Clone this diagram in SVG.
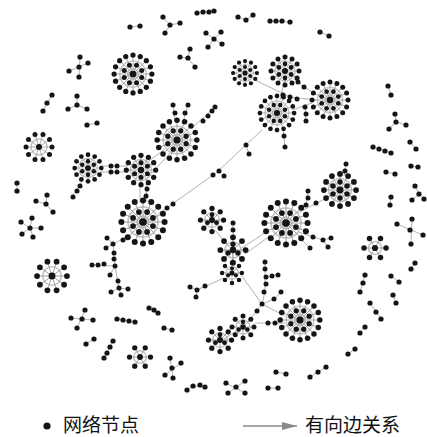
<svg xmlns="http://www.w3.org/2000/svg" width="427" height="437" viewBox="0 0 427 437">
<style>
.d{fill:#151515}
.sp{stroke:#9a9a9a;stroke-width:0.8;fill:none}
.rg{stroke:#c4c4c4;stroke-width:1.4;fill:none}
.e{stroke:#b2b2b2;stroke-width:1;fill:none}
.lt{font-family:"Noto Sans CJK SC","Noto Sans",sans-serif;font-size:19px;fill:#111}
</style>
<defs>
<marker id="ah" markerWidth="15" markerHeight="8" refX="15" refY="4" orient="auto" markerUnits="userSpaceOnUse"><polygon points="0,0 15,4 0,8" fill="#8a8a8a"/></marker>
<g id="hubL">
<circle class="rg" r="12.5"/><circle class="rg" r="5"/>
<path class="sp" d="M0 0L18 0M0 0L16.6 6.9M0 0L12.7 12.7M0 0L6.9 16.6M0 0L0 18M0 0L-6.9 16.6M0 0L-12.7 12.7M0 0L-16.6 6.9M0 0L-18 0M0 0L-16.6 -6.9M0 0L-12.7 -12.7M0 0L-6.9 -16.6M0 0L0 -18M0 0L6.9 -16.6M0 0L12.7 -12.7M0 0L16.6 -6.9"/>
<circle class="d" r="3.2"/>
<circle class="d" cx="8.3" cy="3.4" r="2.4"/><circle class="d" cx="3.4" cy="8.3" r="2.4"/><circle class="d" cx="-3.4" cy="8.3" r="2.4"/><circle class="d" cx="-8.3" cy="3.4" r="2.4"/><circle class="d" cx="-8.3" cy="-3.4" r="2.4"/><circle class="d" cx="-3.4" cy="-8.3" r="2.4"/><circle class="d" cx="3.4" cy="-8.3" r="2.4"/><circle class="d" cx="8.3" cy="-3.4" r="2.4"/>
<circle class="d" cx="18" cy="0" r="2.5"/><circle class="d" cx="16.6" cy="6.9" r="2.5"/><circle class="d" cx="12.7" cy="12.7" r="2.5"/><circle class="d" cx="6.9" cy="16.6" r="2.5"/><circle class="d" cx="0" cy="18" r="2.5"/><circle class="d" cx="-6.9" cy="16.6" r="2.5"/><circle class="d" cx="-12.7" cy="12.7" r="2.5"/><circle class="d" cx="-16.6" cy="6.9" r="2.5"/><circle class="d" cx="-18" cy="0" r="2.5"/><circle class="d" cx="-16.6" cy="-6.9" r="2.5"/><circle class="d" cx="-12.7" cy="-12.7" r="2.5"/><circle class="d" cx="-6.9" cy="-16.6" r="2.5"/><circle class="d" cx="0" cy="-18" r="2.5"/><circle class="d" cx="6.9" cy="-16.6" r="2.5"/><circle class="d" cx="12.7" cy="-12.7" r="2.5"/><circle class="d" cx="16.6" cy="-6.9" r="2.5"/>
</g>
<g id="hubM">
<circle class="rg" r="10"/>
<path class="sp" d="M0 0L14 0M0 0L12.1 7M0 0L7 12.1M0 0L0 14M0 0L-7 12.1M0 0L-12.1 7M0 0L-14 0M0 0L-12.1 -7M0 0L-7 -12.1M0 0L0 -14M0 0L7 -12.1M0 0L12.1 -7"/>
<circle class="d" r="3"/>
<circle class="d" cx="6.1" cy="3.5" r="2.4"/><circle class="d" cx="0" cy="7" r="2.4"/><circle class="d" cx="-6.1" cy="3.5" r="2.4"/><circle class="d" cx="-6.1" cy="-3.5" r="2.4"/><circle class="d" cx="0" cy="-7" r="2.4"/><circle class="d" cx="6.1" cy="-3.5" r="2.4"/>
<circle class="d" cx="14" cy="0" r="2.5"/><circle class="d" cx="12.1" cy="7" r="2.5"/><circle class="d" cx="7" cy="12.1" r="2.5"/><circle class="d" cx="0" cy="14" r="2.5"/><circle class="d" cx="-7" cy="12.1" r="2.5"/><circle class="d" cx="-12.1" cy="7" r="2.5"/><circle class="d" cx="-14" cy="0" r="2.5"/><circle class="d" cx="-12.1" cy="-7" r="2.5"/><circle class="d" cx="-7" cy="-12.1" r="2.5"/><circle class="d" cx="0" cy="-14" r="2.5"/><circle class="d" cx="7" cy="-12.1" r="2.5"/><circle class="d" cx="12.1" cy="-7" r="2.5"/>
</g>
<g id="ring10">
<circle class="rg" r="8"/>
<path class="sp" d="M0 0L13 0M0 0L10.5 7.6M0 0L4 12.4M0 0L-4 12.4M0 0L-10.5 7.6M0 0L-13 0M0 0L-10.5 -7.6M0 0L-4 -12.4M0 0L4 -12.4M0 0L10.5 -7.6"/>
<circle class="d" r="3"/>
<circle class="d" cx="13" cy="0" r="2.5"/><circle class="d" cx="10.5" cy="7.6" r="2.5"/><circle class="d" cx="4" cy="12.4" r="2.5"/><circle class="d" cx="-4" cy="12.4" r="2.5"/><circle class="d" cx="-10.5" cy="7.6" r="2.5"/><circle class="d" cx="-13" cy="0" r="2.5"/><circle class="d" cx="-10.5" cy="-7.6" r="2.5"/><circle class="d" cx="-4" cy="-12.4" r="2.5"/><circle class="d" cx="4" cy="-12.4" r="2.5"/><circle class="d" cx="10.5" cy="-7.6" r="2.5"/>
</g>
<g id="star8">
<circle class="rg" r="7"/>
<path class="sp" d="M0 0L11 0M0 0L7.8 7.8M0 0L0 11M0 0L-7.8 7.8M0 0L-11 0M0 0L-7.8 -7.8M0 0L0 -11M0 0L7.8 -7.8"/>
<circle class="d" r="2.8"/>
<circle class="d" cx="4.3" cy="2.5" r="2.3"/><circle class="d" cx="-4.3" cy="2.5" r="2.3"/><circle class="d" cx="0" cy="-5" r="2.3"/>
<circle class="d" cx="11" cy="0" r="2.5"/><circle class="d" cx="7.8" cy="7.8" r="2.5"/><circle class="d" cx="0" cy="11" r="2.5"/><circle class="d" cx="-7.8" cy="7.8" r="2.5"/><circle class="d" cx="-11" cy="0" r="2.5"/><circle class="d" cx="-7.8" cy="-7.8" r="2.5"/><circle class="d" cx="0" cy="-11" r="2.5"/><circle class="d" cx="7.8" cy="-7.8" r="2.5"/>
</g>
<g id="star6">
<circle class="rg" r="6"/>
<path class="sp" d="M0 0L10 0M0 0L5 8.7M0 0L-5 8.7M0 0L-10 0M0 0L-5 -8.7M0 0L5 -8.7"/>
<circle class="d" r="2.8"/>
<circle class="d" cx="10" cy="0" r="2.5"/><circle class="d" cx="5" cy="8.7" r="2.5"/><circle class="d" cx="-5" cy="8.7" r="2.5"/><circle class="d" cx="-10" cy="0" r="2.5"/><circle class="d" cx="-5" cy="-8.7" r="2.5"/><circle class="d" cx="5" cy="-8.7" r="2.5"/>
</g>
</defs>

<g id="connectors" class="e">
<path d="M100 166L128 166M100 172L128 172"/>
<path d="M146 163L165 149M152 173L171 152"/>
<path d="M140 184L140 202M146 184L147 202"/>
<path d="M192 128L215 107"/>
<path d="M175 122L173 105M183 122L188 105"/>
<path d="M83 180L72 197"/>
<path d="M158 214L216 173L262 130M246 145L249 154"/>
<path d="M283 128L285 148"/>
<path d="M253 79L290 97L316 100"/>
<path d="M294 79L304 87L312 92"/>
<path d="M284 82L280 100"/>
<path d="M292 110L312 103M305 106L306 121"/>
<path d="M298 213L328 197M306 206L308 191"/>
<path d="M344 176L346 164"/>
<path d="M298 232L323 240L331 238M323 240L328 247M298 236L310 248"/>
<path d="M266 232L242 248M270 236L245 254"/>
<path d="M215 230L228 246"/>
<path d="M233 238L233 223"/>
<path d="M233 252L232 273"/>
<path d="M224 278L197 290"/>
<path d="M236 268L262 304"/>
<path d="M265 262L265 292L262 304M266 277L278 275M262 304L274 299L282 291"/>
<path d="M262 304L285 316M255 323L285 323"/>
<path d="M262 304L248 322"/>
<path d="M243 327L222 340"/>
<path d="M130 235L113 244L115 266L110 275M92 265L115 266L119 288"/>
<path d="M130 27L140 26M163 17L170 25L180 23M170 25L165 33M197 13L214 11"/>
<path d="M206 33L214 39L221 32M214 39L222 44M214 39L208 47M238 17L246 20L253 15M270 21L290 22M320 32L329 36"/>
<path d="M190 49L188 58L180 57M188 58L195 67M80 57L79 77M88 63L69 71M52 95L43 111M77 96L77 105L68 109M77 105L87 109M87 125L97 123"/>
<path d="M388 86L391 95M395 114L396 122L406 125M396 122L389 129M373 147L391 153M410 142L416 149M411 166L418 167M386 172L395 174"/>
<path d="M415 186L419 194L412 200M419 194L424 199M391 197L390 205M397 224L423 235M412 219L411 244"/>
<path d="M17 183L17 191M47 195L46 204L36 201M46 204L53 212M21 222L30 228L32 218M30 228L41 228M30 228L33 237M30 228L22 234"/>
<path d="M85 310L77 328M71 318L93 320M117 319L135 322M149 308L158 313M164 328L172 330M86 344L94 339M113 341L104 358"/>
<path d="M170 358L173 378M181 363L165 375M187 390L193 386L205 387M226 383L245 393M245 381L228 393"/>
<path d="M268 388L278 388M276 372L286 374M326 367L310 377M355 349L348 354M365 327L360 333M370 303L381 319M393 295L396 303M391 276L399 282M365 275L360 292M415 263L411 269"/>
<path d="M111 292L119 288L128 289M119 288L121 295M113 244L107 238M113 244L106 248M190 287L197 290L205 286M197 290L196 297"/>
</g>

<g id="hub1"><use href="#hubL" transform="translate(133,74) scale(1.05)"/></g>
<g id="hub2"><use href="#hubL" transform="translate(330,100)"/></g>
<g id="hub3"><use href="#hubL" transform="translate(177,140) scale(1.1)"/></g>
<g id="hub4"><use href="#hubL" transform="translate(277,113) scale(0.95)"/></g>
<g id="hub5"><use href="#hubL" transform="translate(143,222) scale(1.2)"/></g>
<g id="hub6"><use href="#hubL" transform="translate(286,223) scale(1.2)"/></g>
<g id="hub7"><use href="#hubL" transform="translate(300,320) scale(1.1)"/></g>
<g id="hub8"><use href="#hubM" transform="translate(285,71)"/></g>
<g id="hub9"><use href="#hubM" transform="translate(245,73) scale(0.85)"/></g>
<g id="hub10"><use href="#hubM" transform="translate(88,168) scale(0.95)"/></g>
<g id="hub11"><use href="#hubM" transform="translate(141,170) scale(1.05)"/></g>
<g id="hub20"><use href="#hubM" transform="translate(340,190) scale(1.15)"/></g>
<g id="ring12"><use href="#ring10" transform="translate(39,147)"/></g>
<g id="ring13"><use href="#ring10" transform="translate(52,276) scale(1.15)"/></g>
<g id="star15"><use href="#star8" transform="translate(233,250) scale(1.15)"/></g>
<g id="star16"><use href="#star8" transform="translate(212,220) scale(1.05)"/></g>
<g id="star17"><use href="#star8" transform="translate(232,273) scale(0.9)"/></g>
<g id="star18"><use href="#star8" transform="translate(243,327)"/></g>
<g id="star19"><use href="#star8" transform="translate(220,340) scale(1.05)"/></g>
<g id="star14"><use href="#star6" transform="translate(140,357) scale(1.05)"/></g>
<g id="star21"><use href="#star6" transform="translate(375,248) scale(1.1)"/></g>

<g id="links-small" class="d">
<circle cx="111" cy="166" r="2.5"/><circle cx="117" cy="166" r="2.5"/><circle cx="111" cy="172" r="2.5"/><circle cx="117" cy="172" r="2.5"/>
<circle cx="147" cy="189" r="2.5"/><circle cx="146" cy="196" r="2.5"/>
<circle cx="203" cy="121" r="2.5"/><circle cx="208" cy="116" r="2.5"/><circle cx="212" cy="111" r="2.5"/><circle cx="215" cy="107" r="2.5"/>
<circle cx="173" cy="105" r="2.5"/><circle cx="175" cy="113" r="2.5"/><circle cx="188" cy="105" r="2.5"/><circle cx="185" cy="113" r="2.5"/>
<circle cx="80" cy="186" r="2.5"/><circle cx="77" cy="191" r="2.5"/><circle cx="73" cy="197" r="2.5"/>
<circle cx="167" cy="208" r="2.5"/><circle cx="173" cy="204" r="2.5"/><circle cx="213" cy="175" r="2.5"/><circle cx="219" cy="171" r="2.5"/><circle cx="224" cy="176" r="2.5"/>
<circle cx="246" cy="145" r="2.5"/><circle cx="249" cy="154" r="2.5"/>
<circle cx="284" cy="136" r="2.5"/><circle cx="285" cy="147" r="2.5"/>
<circle cx="283" cy="95" r="2.5"/><circle cx="290" cy="97" r="2.5"/><circle cx="297" cy="99" r="2.5"/>
<circle cx="298" cy="82" r="2.5"/><circle cx="304" cy="87" r="2.5"/>
<circle cx="305" cy="107" r="2.5"/><circle cx="306" cy="114" r="2.5"/><circle cx="306" cy="121" r="2.5"/>
<circle cx="308" cy="191" r="2.5"/><circle cx="308" cy="198" r="2.5"/><circle cx="306" cy="205" r="2.5"/><circle cx="316" cy="203" r="2.5"/>
<circle cx="345" cy="171" r="2.5"/><circle cx="346" cy="164" r="2.5"/>
<circle cx="313" cy="237" r="2.5"/><circle cx="323" cy="240" r="2.5"/><circle cx="331" cy="238" r="2.5"/><circle cx="328" cy="247" r="2.5"/><circle cx="310" cy="248" r="2.5"/>
<circle cx="233" cy="223" r="2.5"/><circle cx="233" cy="230" r="2.5"/>
<circle cx="197" cy="290" r="2.5"/><circle cx="190" cy="287" r="2.5"/><circle cx="205" cy="286" r="2.5"/><circle cx="196" cy="297" r="2.5"/>
<circle cx="265" cy="262" r="2.5"/><circle cx="265" cy="269" r="2.5"/><circle cx="266" cy="277" r="2.5"/><circle cx="266" cy="284" r="2.5"/><circle cx="264" cy="292" r="2.5"/><circle cx="272" cy="276" r="2.5"/><circle cx="278" cy="275" r="2.5"/>
<circle cx="274" cy="299" r="2.5"/><circle cx="281" cy="292" r="2.5"/>
<circle cx="262" cy="304" r="2.5"/><circle cx="257" cy="311" r="2.5"/><circle cx="268" cy="323" r="2.5"/><circle cx="275" cy="323" r="2.5"/>
<circle cx="113" cy="244" r="2.5"/><circle cx="107" cy="238" r="2.5"/><circle cx="106" cy="248" r="2.5"/><circle cx="114" cy="253" r="2.5"/><circle cx="114" cy="259" r="2.5"/><circle cx="123" cy="240" r="2.5"/>
<circle cx="92" cy="265" r="2.5"/><circle cx="98" cy="265" r="2.5"/><circle cx="104" cy="264" r="2.5"/><circle cx="115" cy="266" r="2.5"/><circle cx="110" cy="275" r="2.5"/>
<circle cx="119" cy="288" r="2.5"/><circle cx="118" cy="281" r="2.5"/><circle cx="111" cy="292" r="2.5"/><circle cx="121" cy="295" r="2.5"/><circle cx="128" cy="289" r="2.5"/>
</g>

<g id="n-top" class="d">
<circle cx="130" cy="27" r="2.6"/><circle cx="140" cy="26" r="2.6"/>
<circle cx="170" cy="25" r="2.6"/><circle cx="163" cy="17" r="2.6"/><circle cx="180" cy="23" r="2.6"/><circle cx="165" cy="33" r="2.6"/>
<circle cx="197" cy="13" r="2.6"/><circle cx="203" cy="12" r="2.6"/><circle cx="209" cy="12" r="2.6"/><circle cx="214" cy="11" r="2.6"/>
<circle cx="214" cy="39" r="2.6"/><circle cx="206" cy="33" r="2.6"/><circle cx="221" cy="32" r="2.6"/><circle cx="222" cy="44" r="2.6"/><circle cx="208" cy="47" r="2.6"/>
<circle cx="238" cy="17" r="2.6"/><circle cx="246" cy="20" r="2.6"/><circle cx="253" cy="15" r="2.6"/>
<circle cx="270" cy="21" r="2.6"/><circle cx="276" cy="21" r="2.6"/><circle cx="282" cy="21" r="2.6"/><circle cx="290" cy="22" r="2.6"/>
<circle cx="320" cy="32" r="2.6"/><circle cx="329" cy="36" r="2.6"/>
<circle cx="188" cy="58" r="2.6"/><circle cx="190" cy="49" r="2.6"/><circle cx="180" cy="57" r="2.6"/><circle cx="195" cy="67" r="2.6"/>
<circle cx="79" cy="67" r="2.6"/><circle cx="80" cy="57" r="2.6"/><circle cx="88" cy="63" r="2.6"/><circle cx="69" cy="71" r="2.6"/><circle cx="79" cy="77" r="2.6"/>
<circle cx="52" cy="95" r="2.6"/><circle cx="47" cy="103" r="2.6"/><circle cx="43" cy="111" r="2.6"/>
<circle cx="77" cy="105" r="2.6"/><circle cx="77" cy="96" r="2.6"/><circle cx="68" cy="109" r="2.6"/><circle cx="87" cy="109" r="2.6"/>
<circle cx="87" cy="125" r="2.6"/><circle cx="97" cy="123" r="2.6"/>
</g>
<g id="n-right" class="d">
<circle cx="388" cy="86" r="2.6"/><circle cx="391" cy="95" r="2.6"/>
<circle cx="396" cy="122" r="2.6"/><circle cx="395" cy="114" r="2.6"/><circle cx="406" cy="125" r="2.6"/><circle cx="389" cy="129" r="2.6"/>
<circle cx="373" cy="147" r="2.6"/><circle cx="379" cy="149" r="2.6"/><circle cx="385" cy="151" r="2.6"/><circle cx="391" cy="153" r="2.6"/>
<circle cx="410" cy="142" r="2.6"/><circle cx="416" cy="149" r="2.6"/>
<circle cx="411" cy="166" r="2.6"/><circle cx="418" cy="167" r="2.6"/>
<circle cx="386" cy="172" r="2.6"/><circle cx="395" cy="174" r="2.6"/>
<circle cx="419" cy="194" r="2.6"/><circle cx="415" cy="186" r="2.6"/><circle cx="412" cy="200" r="2.6"/><circle cx="424" cy="199" r="2.6"/>
<circle cx="391" cy="197" r="2.6"/><circle cx="390" cy="205" r="2.6"/>
<circle cx="410" cy="230" r="2.6"/><circle cx="397" cy="224" r="2.6"/><circle cx="412" cy="219" r="2.6"/><circle cx="423" cy="235" r="2.6"/><circle cx="411" cy="244" r="2.6"/>
</g>
<g id="n-left" class="d">
<circle cx="17" cy="183" r="2.6"/><circle cx="17" cy="191" r="2.6"/>
<circle cx="46" cy="204" r="2.6"/><circle cx="47" cy="195" r="2.6"/><circle cx="36" cy="201" r="2.6"/><circle cx="53" cy="212" r="2.6"/>
<circle cx="30" cy="228" r="2.6"/><circle cx="21" cy="222" r="2.6"/><circle cx="32" cy="218" r="2.6"/><circle cx="41" cy="228" r="2.6"/><circle cx="33" cy="237" r="2.6"/><circle cx="22" cy="234" r="2.6"/>
</g>
<g id="n-bottom" class="d">
<circle cx="82" cy="319" r="2.6"/><circle cx="85" cy="310" r="2.6"/><circle cx="71" cy="318" r="2.6"/><circle cx="93" cy="320" r="2.6"/><circle cx="77" cy="328" r="2.6"/>
<circle cx="117" cy="319" r="2.6"/><circle cx="123" cy="320" r="2.6"/><circle cx="129" cy="321" r="2.6"/><circle cx="135" cy="322" r="2.6"/>
<circle cx="149" cy="308" r="2.6"/><circle cx="154" cy="310" r="2.6"/><circle cx="158" cy="313" r="2.6"/>
<circle cx="164" cy="328" r="2.6"/><circle cx="172" cy="330" r="2.6"/>
<circle cx="86" cy="344" r="2.6"/><circle cx="94" cy="339" r="2.6"/>
<circle cx="113" cy="341" r="2.6"/><circle cx="110" cy="347" r="2.6"/><circle cx="107" cy="353" r="2.6"/><circle cx="104" cy="358" r="2.6"/>
<circle cx="172" cy="368" r="2.6"/><circle cx="170" cy="358" r="2.6"/><circle cx="181" cy="363" r="2.6"/><circle cx="165" cy="375" r="2.6"/><circle cx="173" cy="378" r="2.6"/>
<circle cx="187" cy="390" r="2.6"/><circle cx="193" cy="386" r="2.6"/><circle cx="200" cy="385" r="2.6"/><circle cx="205" cy="387" r="2.6"/>
<circle cx="236" cy="387" r="2.6"/><circle cx="226" cy="383" r="2.6"/><circle cx="245" cy="381" r="2.6"/><circle cx="228" cy="393" r="2.6"/><circle cx="245" cy="393" r="2.6"/>
<circle cx="268" cy="388" r="2.6"/><circle cx="278" cy="388" r="2.6"/>
<circle cx="276" cy="372" r="2.6"/><circle cx="286" cy="374" r="2.6"/>
<circle cx="326" cy="367" r="2.6"/><circle cx="318" cy="372" r="2.6"/><circle cx="310" cy="377" r="2.6"/>
<circle cx="355" cy="349" r="2.6"/><circle cx="348" cy="354" r="2.6"/>
<circle cx="365" cy="327" r="2.6"/><circle cx="360" cy="333" r="2.6"/>
<circle cx="370" cy="303" r="2.6"/><circle cx="376" cy="312" r="2.6"/><circle cx="381" cy="319" r="2.6"/>
<circle cx="393" cy="295" r="2.6"/><circle cx="396" cy="303" r="2.6"/>
<circle cx="391" cy="276" r="2.6"/><circle cx="399" cy="282" r="2.6"/>
<circle cx="365" cy="275" r="2.6"/><circle cx="363" cy="283" r="2.6"/><circle cx="360" cy="292" r="2.6"/>
<circle cx="415" cy="263" r="2.6"/><circle cx="411" cy="269" r="2.6"/>
</g>

<g id="legend-node">
<circle class="d" cx="47" cy="426" r="3.6"/>
<text class="lt" x="63" y="432">网络节点</text>
</g>
<g id="legend-edge">
<line x1="243" y1="426" x2="297" y2="426" stroke="#8a8a8a" stroke-width="1.3" marker-end="url(#ah)"/>
<text class="lt" x="305" y="432">有向边关系</text>
</g>
</svg>
